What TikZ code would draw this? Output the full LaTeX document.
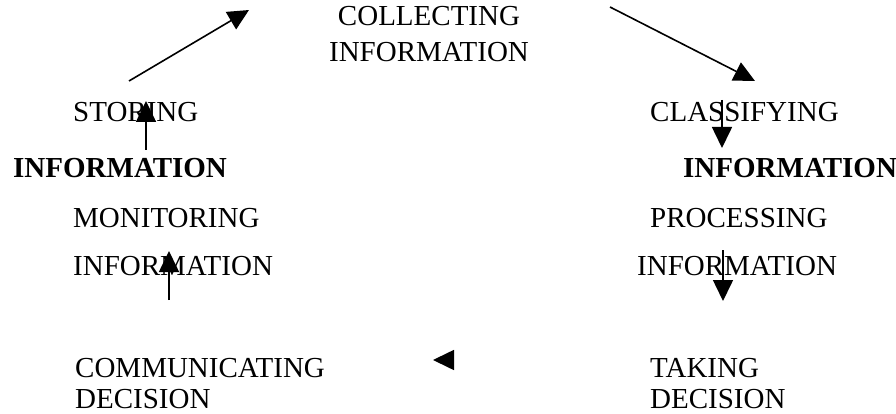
\documentclass[tikz,border=0pt]{standalone}
\usepackage{fontspec}
\setmainfont{Liberation Serif}
\usetikzlibrary{arrows.meta}
\tikzset{
  lbl/.style={anchor=base west, inner sep=0pt, font=\fontsize{29}{34}\selectfont},
  lblb/.style={lbl, font=\fontsize{29}{34}\selectfont\bfseries},
  flow/.style={line width=1.6pt, -{Triangle[length=21pt,width=20pt]}}
}

\begin{document}
\begin{tikzpicture}[x=1pt,y=-1pt]
\useasboundingbox (0,0) rectangle (896,414);
% stages of the cycle
\node[lbl, anchor=base] (collect) at (429,26) {COLLECTING};
\node[lbl, anchor=base] (collectInfo) at (429,62) {INFORMATION};
\node[lbl] (classify) at (650,122) {CLASSIFYING};
\node[lblb] (classifyInfo) at (683,178) {INFORMATION};
\node[lbl] (process) at (650,227) {PROCESSING};
\node[lbl] (processInfo) at (637,275) {INFORMATION};
\node[lbl] (take) at (650,377) {TAKING};
\node[lbl] (takeDec) at (650,408) {DECISION};
\node[lbl] (comm) at (75,377) {COMMUNICATING};
\node[lbl] (commDec) at (75,408) {DECISION};
\node[lbl] (monitor) at (73,227) {MONITORING};
\node[lbl] (monitorInfo) at (73,275) {INFORMATION};
\node[lbl] (store) at (73,122) {STORING};
\node[lblb] (storeInfo) at (13,178) {INFORMATION};
% arrow ends
\coordinate (storeTop) at (129,81);
\coordinate (collectL) at (249,10);
\coordinate (collectR) at (610,7);
\coordinate (classifyTop) at (755,81);
\coordinate (classifyA) at (722,100);
\coordinate (classifyB) at (722,148);
\coordinate (processA) at (723,250);
\coordinate (processB) at (723,301);
\coordinate (decA) at (449,360);
\coordinate (decB) at (433,360);
\coordinate (monitorA) at (169,300);
\coordinate (monitorB) at (169,251);
\coordinate (storeA) at (146,150);
\coordinate (storeB) at (146,101);
% arrows
\draw[flow] (storeTop) -- (collectL);
\draw[flow] (collectR) -- (classifyTop);
\draw[flow] (classifyA) -- (classifyB);
\draw[flow] (processA) -- (processB);
\draw[flow] (decA) -- (decB);
\draw[flow] (monitorA) -- (monitorB);
\draw[flow] (storeA) -- (storeB);
\end{tikzpicture}
\end{document}
